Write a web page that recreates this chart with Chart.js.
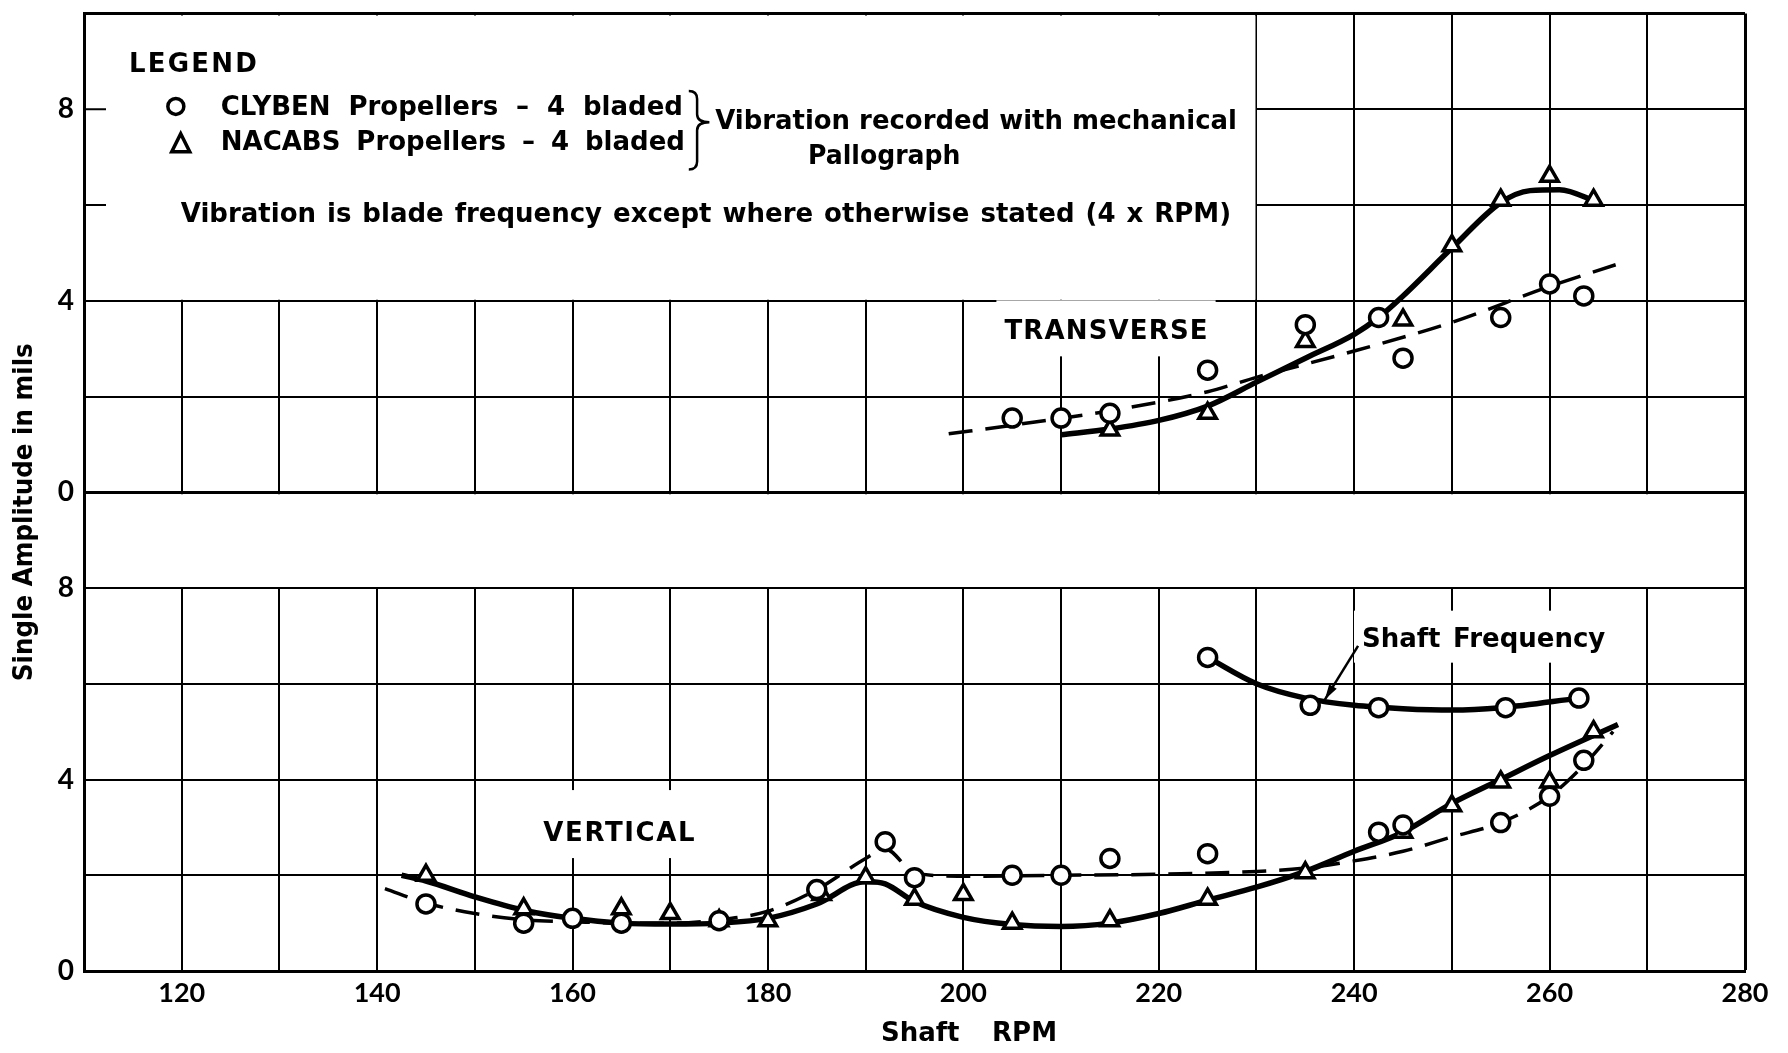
<!DOCTYPE html>
<html>
<head>
<meta charset="utf-8">
<title>Propeller vibration - transverse and vertical</title>
<script src="https://cdn.jsdelivr.net/npm/chart.js@4.4.0/dist/chart.umd.min.js"></script>
<style>
  html, body { margin: 0; padding: 0; background: #fff; }
</style>
</head>
<body>
<canvas id="chart" width="1788" height="1053"></canvas>
<script>
// tick labels
const rpmLabels = [120, 140, 160, 180, 200, 220, 240, 260, 280];
const ampLabels = [0, 4, 8];
// the transverse panel sits on top of the vertical one, 10 mils higher
const PANEL = 10;

// TRANSVERSE - measured points
const trClybenRpm = [205, 210, 215, 225, 235, 242.5, 245, 255, 260, 263.5];
const trClybenAmp = [1.55, 1.55, 1.65, 2.55, 3.5, 3.65, 2.8, 3.65, 4.35, 4.1];
const trNacabsRpm = [215, 225, 235, 245, 250, 255, 260, 264.5];
const trNacabsAmp = [1.3, 1.65, 3.15, 3.6, 5.15, 6.1, 6.6, 6.1];
// TRANSVERSE - faired curves
const trClybenFitRpm = [198.5, 205, 215, 225, 230, 240, 250, 260, 267.5];
const trClybenFitAmp = [1.22, 1.4, 1.7, 2.1, 2.4, 2.95, 3.55, 4.3, 4.8];
const trNacabsFitRpm = [210, 215, 220, 225, 230, 235, 240, 242.5, 245, 250, 255, 258, 261, 265];
const trNacabsFitAmp = [1.2, 1.32, 1.5, 1.8, 2.3, 2.8, 3.3, 3.65, 4.1, 5.1, 6.05, 6.3, 6.32, 6.05];

// VERTICAL - measured points
const vtClybenRpm = [145, 155, 160, 165, 175, 185, 192, 195, 205, 210, 215, 225, 242.5, 245, 255, 260, 263.5];
const vtClybenAmp = [1.4, 1.0, 1.1, 1.0, 1.05, 1.7, 2.7, 1.95, 2.0, 2.0, 2.35, 2.45, 2.9, 3.05, 3.1, 3.65, 4.4];
const vtNacabsRpm = [145, 155, 165, 170, 175, 180, 185.5, 190, 195, 200, 205, 215, 225, 235, 245, 250, 255, 260, 264.5];
const vtNacabsAmp = [2.0, 1.3, 1.3, 1.2, 1.05, 1.05, 1.6, 1.95, 1.5, 1.6, 1.0, 1.05, 1.5, 2.05, 2.9, 3.45, 3.95, 3.95, 5.0];
const shaftRpm = [225, 235.5, 242.5, 255.5, 263];
const shaftAmp = [6.55, 5.55, 5.5, 5.5, 5.7];
// VERTICAL - faired curves
const vtClybenFitRpm = [140.8, 145, 150, 155, 160, 165, 170, 175, 180, 185, 190, 192, 195, 200, 210, 220, 230, 235, 240, 245, 250, 255, 260, 263.5, 266.5];
const vtClybenFitAmp = [1.72, 1.42, 1.2, 1.07, 1.03, 1.0, 1.0, 1.07, 1.25, 1.7, 2.35, 2.55, 2.05, 1.98, 2.0, 2.02, 2.08, 2.15, 2.3, 2.5, 2.8, 3.1, 3.65, 4.3, 5.0];
const vtNacabsFitRpm = [142.5, 145, 150, 155, 160, 165, 170, 175, 180, 185, 190, 192, 195, 200, 205, 210, 215, 220, 225, 230, 235, 240, 245, 250, 255, 260, 267];
const vtNacabsFitAmp = [2.0, 1.88, 1.55, 1.27, 1.1, 1.0, 0.98, 1.0, 1.1, 1.4, 1.87, 1.82, 1.45, 1.12, 0.97, 0.93, 1.0, 1.2, 1.48, 1.75, 2.08, 2.5, 2.9, 3.5, 4.0, 4.5, 5.15];
const shaftFitRpm = [225, 230, 235, 240, 245, 250, 255, 263];
const shaftFitAmp = [6.55, 6.0, 5.7, 5.55, 5.48, 5.45, 5.5, 5.7];

const TICK_FONT = 'Lato, "DejaVu Sans", sans-serif';
const TEXT_FONT = 'bold 26px "DejaVu Sans", sans-serif';

function pts(xs, ys, off) {
    return xs.map((x, i) => ({ x: x, y: ys[i] + off }));
}

const circleMarks = { showLine: false, pointStyle: 'circle', pointRadius: 9, pointBorderWidth: 3.5,
    pointBorderColor: '#000', pointBackgroundColor: '#fff' };
const triangleMarks = { showLine: false, pointStyle: 'triangle', pointRadius: 10, pointBorderWidth: 3.5,
    pointBorderColor: '#000', pointBackgroundColor: '#fff' };
const solidCurve = { showLine: true, pointRadius: 0, borderColor: '#000', borderWidth: 5.5,
    cubicInterpolationMode: 'monotone', fill: false };
const dashedCurve = { showLine: true, pointRadius: 0, borderColor: '#000', borderWidth: 3.5,
    borderDash: [24, 13], cubicInterpolationMode: 'monotone', fill: false };

const datasets = [
    // markers first so they are drawn on top of the curves
    Object.assign({ label: 'CLYBEN transverse', data: pts(trClybenRpm, trClybenAmp, PANEL) }, circleMarks),
    Object.assign({ label: 'NACABS transverse', data: pts(trNacabsRpm, trNacabsAmp, PANEL) }, triangleMarks),
    Object.assign({ label: 'CLYBEN vertical', data: pts(vtClybenRpm, vtClybenAmp, 0) }, circleMarks),
    Object.assign({ label: 'NACABS vertical', data: pts(vtNacabsRpm, vtNacabsAmp, 0) }, triangleMarks),
    Object.assign({ label: 'CLYBEN shaft frequency', data: pts(shaftRpm, shaftAmp, 0) }, circleMarks),
    Object.assign({ label: 'CLYBEN transverse fit', data: pts(trClybenFitRpm, trClybenFitAmp, PANEL) }, dashedCurve),
    Object.assign({ label: 'NACABS transverse fit', data: pts(trNacabsFitRpm, trNacabsFitAmp, PANEL) }, solidCurve),
    Object.assign({ label: 'CLYBEN vertical fit', data: pts(vtClybenFitRpm, vtClybenFitAmp, 0) }, dashedCurve),
    Object.assign({ label: 'NACABS vertical fit', data: pts(vtNacabsFitRpm, vtNacabsFitAmp, 0) }, solidCurve),
    Object.assign({ label: 'Shaft frequency fit', data: pts(shaftFitRpm, shaftFitAmp, 0) }, solidCurve)
];

// text placed in data units (rpm, amplitude on the 0..20 stack)
const notes = [
    { text: 'LEGEND', x0: 114.6, x1: 127.7, v: 18.92 },
    { text: 'CLYBEN Propellers – 4 bladed', x0: 124.0, x1: 171.3, v: 18.02 },
    { text: 'NACABS Propellers – 4 bladed', x0: 124.0, x1: 171.5, v: 17.28 },
    { text: 'Vibration recorded with mechanical', x0: 174.6, x1: 228.0, v: 17.73 },
    { text: 'Pallograph', x0: 184.1, x1: 199.7, v: 17.0 },
    { text: 'Vibration is blade frequency except where otherwise stated (4 x RPM)', x0: 119.9, x1: 227.4, v: 15.78 },
    { text: 'TRANSVERSE', x0: 204.2, x1: 225.0, v: 13.34, box: [32, 24] },
    { text: 'VERTICAL', x0: 157.0, x1: 172.5, v: 2.86, box: [44, 24] },
    { text: 'Shaft Frequency', x0: 240.8, x1: 265.7, v: 6.9, box: [30, 22] }
];

function fitText(ctx, text, xl, xr, ym, font) {
    ctx.save();
    ctx.font = font;
    ctx.fillStyle = '#000';
    ctx.textAlign = 'left';
    ctx.textBaseline = 'middle';
    const target = xr - xl;
    const natural = ctx.measureText(text).width;
    const gaps = (text.match(/ /g) || []).length;
    if (natural < target && gaps > 0 && 'wordSpacing' in ctx) {
        ctx.wordSpacing = ((target - natural) / gaps) + 'px';
        ctx.fillText(text, xl, ym);
    } else if (natural < target && 'letterSpacing' in ctx) {
        ctx.letterSpacing = ((target - natural) / Math.max(1, text.length - 1)) + 'px';
        ctx.fillText(text, xl, ym);
    } else {
        ctx.fillText(text, xl, ym, target);
    }
    ctx.restore();
}

const paperPlugin = {
    id: 'paper',
    beforeDatasetsDraw(chart) {
        const ctx = chart.ctx;
        const a = chart.chartArea;
        const x = chart.scales.x, y = chart.scales.y;
        ctx.save();
        ctx.fillStyle = '#fff';
        // blank strip between the two panels
        const ySep = y.getPixelForValue(PANEL), y8 = y.getPixelForValue(8);
        ctx.fillRect(a.left + 2, ySep + 2, a.width - 4, y8 - ySep - 3);
        // legend box, no grid inside
        const xBox = x.getPixelForValue(230), yBox = y.getPixelForValue(PANEL + 4);
        ctx.fillRect(a.left + 2, a.top + 2, xBox - a.left - 3, yBox - a.top - 3);
        ctx.strokeStyle = '#000';
        ctx.lineWidth = 2;
        [PANEL + 6, PANEL + 8].forEach(v => {
            const py = y.getPixelForValue(v);
            ctx.beginPath();
            ctx.moveTo(a.left, py);
            ctx.lineTo(a.left + 22, py);
            ctx.stroke();
        });

        // label backgrounds cut the grid
        notes.forEach(n => {
            if (!n.box) return;
            const xl = x.getPixelForValue(n.x0), xr = x.getPixelForValue(n.x1), ym = y.getPixelForValue(n.v);
            ctx.fillStyle = '#fff';
            ctx.fillRect(xl - 8, ym - n.box[0], xr - xl + 16, n.box[0] + n.box[1]);
        });
        notes.forEach(n => {
            fitText(ctx, n.text, x.getPixelForValue(n.x0), x.getPixelForValue(n.x1), y.getPixelForValue(n.v), TEXT_FONT);
        });

        // legend symbols
        ctx.lineWidth = 3.5;
        ctx.strokeStyle = '#000';
        const cx = x.getPixelForValue(119.4), cy = y.getPixelForValue(18.06);
        ctx.beginPath();
        ctx.arc(cx, cy, 8, 0, Math.PI * 2);
        ctx.stroke();
        const tx = x.getPixelForValue(119.9), ty = y.getPixelForValue(17.28);
        ctx.beginPath();
        ctx.moveTo(tx, ty - 10);
        ctx.lineTo(tx + 9, ty + 8);
        ctx.lineTo(tx - 9, ty + 8);
        ctx.closePath();
        ctx.stroke();

        // brace joining the two legend lines
        const bx0 = x.getPixelForValue(171.9), bx1 = x.getPixelForValue(173.6);
        const bTop = y.getPixelForValue(18.38), bBot = y.getPixelForValue(16.74), bMid = y.getPixelForValue(17.73);
        const bm = (bx0 + bx1) / 2, r = 8;
        ctx.lineWidth = 2.5;
        ctx.beginPath();
        ctx.moveTo(bx0, bTop);
        ctx.quadraticCurveTo(bm, bTop, bm, bTop + r);
        ctx.lineTo(bm, bMid - r);
        ctx.quadraticCurveTo(bm, bMid, bx1 + 4, bMid);
        ctx.quadraticCurveTo(bm, bMid, bm, bMid + r);
        ctx.lineTo(bm, bBot - r);
        ctx.quadraticCurveTo(bm, bBot, bx0, bBot);
        ctx.stroke();

        // arrow from "Shaft Frequency" to its curve
        const ax0 = x.getPixelForValue(240.4), ay0 = y.getPixelForValue(6.79);
        const ax1 = x.getPixelForValue(237.0), ay1 = y.getPixelForValue(5.67);
        ctx.beginPath();
        ctx.moveTo(ax0, ay0);
        ctx.lineTo(ax1, ay1);
        ctx.stroke();
        const ang = Math.atan2(ay1 - ay0, ax1 - ax0);
        ctx.beginPath();
        ctx.moveTo(ax1, ay1);
        ctx.lineTo(ax1 - 16 * Math.cos(ang - 0.28), ay1 - 16 * Math.sin(ang - 0.28));
        ctx.lineTo(ax1 - 16 * Math.cos(ang + 0.28), ay1 - 16 * Math.sin(ang + 0.28));
        ctx.closePath();
        ctx.fillStyle = '#000';
        ctx.fill();
        ctx.restore();
    },
    afterDraw(chart) {
        const ctx = chart.ctx;
        const a = chart.chartArea;
        // axis titles
        fitText(ctx, 'Shaft RPM', 881, 1057, 1034, TEXT_FONT);
        ctx.save();
        ctx.translate(25, (a.top + a.bottom) / 2 + 20);
        ctx.rotate(-Math.PI / 2);
        fitText(ctx, 'Single Amplitude in mils', -169, 169, 0, TEXT_FONT);
        ctx.restore();
    }
};

const ctx = document.getElementById('chart').getContext('2d');
new Chart(ctx, {
    type: 'scatter',
    data: { datasets: datasets },
    options: {
        responsive: false,
        animation: false,
        events: [],
        layout: { padding: { top: 11, right: 43, left: 0, bottom: 0 } },
        plugins: { legend: { display: false }, tooltip: { enabled: false } },
        scales: {
            x: {
                type: 'linear',
                min: 110,
                max: 280,
                ticks: {
                    stepSize: 10,
                    autoSkip: false,
                    maxRotation: 0,
                    padding: 6,
                    color: '#000',
                    font: { family: TICK_FONT, size: 27, weight: 'bold' },
                    callback: v => rpmLabels.includes(v) ? String(v) : ''
                },
                grid: { color: '#000', drawTicks: false, lineWidth: c => (c.tick && c.tick.value === 280) ? 3 : 2 },
                border: { color: '#000', width: 3 },
                afterFit: s => { s.height = 82; s.paddingLeft = 0; s.paddingRight = 0; }
            },
            y: {
                type: 'linear',
                min: 0,
                max: 20,
                ticks: {
                    stepSize: 2,
                    autoSkip: false,
                    padding: 10,
                    color: '#000',
                    font: { family: TICK_FONT, size: 28, weight: 'bold' },
                    callback: v => {
                        if (v >= 2 * PANEL) return '';
                        const local = v >= PANEL ? v - PANEL : v;
                        return ampLabels.includes(local) ? String(local) : '';
                    }
                },
                grid: { color: '#000', drawTicks: false,
                    lineWidth: c => (c.tick && (c.tick.value === PANEL || c.tick.value === 2 * PANEL)) ? 3 : 2 },
                border: { color: '#000', width: 3 },
                afterFit: s => { s.width = 84; s.paddingTop = 0; s.paddingBottom = 0; }
            }
        }
    },
    plugins: [paperPlugin]
});
</script>
</body>
</html>
